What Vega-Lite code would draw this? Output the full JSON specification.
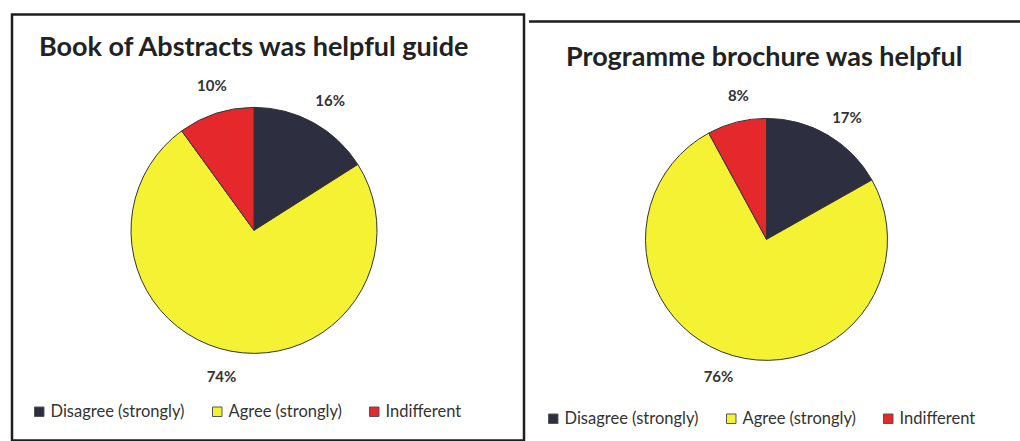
{
  "$schema": "https://vega.github.io/schema/vega-lite/v6.json",
  "padding": {"left": 10, "top": 13, "right": 0, "bottom": 0},
  "spacing": 1,
  "center": true,
  "background": "white",
  "config": {
    "view": {"stroke": "#1e1e1e", "strokeWidth": 2.5},
    "font": "Lato"
  },
  "resolve": {"scale": {"color": "independent", "theta": "independent"}, "legend": {"color": "independent"}},
  "hconcat": [
    {
      "width": 512,
      "height": 426,
      "view": {"stroke": "#1e1e1e", "strokeWidth": 2.5},
      "title": {"text": "Book of Abstracts was helpful guide", "anchor": "start", "offset": -48, "dx": 27, "fontSize": 27, "fontWeight": "bold", "color": "#222222", "font": "Lato"},
      "data": {"values": [
        {"response": "Disagree (strongly)", "pct": 16, "order": 1, "label": "16%"},
        {"response": "Agree (strongly)", "pct": 74, "order": 2, "label": "74%"},
        {"response": "Indifferent", "pct": 10, "order": 3, "label": "10%"}
      ]},
      "encoding": {
        "theta": {"field": "pct", "type": "quantitative", "stack": true},
        "order": {"field": "order", "type": "quantitative"}
      },
      "layer": [
        {
          "mark": {"type": "arc", "outerRadius": 123, "stroke": "#333333", "strokeWidth": 1, "xOffset": -14, "yOffset": 3},
          "encoding": {
            "color": {
              "field": "response", "type": "nominal",
              "scale": {"domain": ["Disagree (strongly)", "Agree (strongly)", "Indifferent"], "range": ["#2d2e40", "#f5f233", "#e5282c"]},
              "legend": {"title": null, "orient": "none", "legendX": 19, "legendY": 389, "direction": "horizontal", "symbolType": "square", "symbolSize": 90, "symbolStrokeColor": "#555555", "symbolStrokeWidth": 1, "labelFontSize": 16.5, "labelColor": "#333333", "labelFont": "Lato", "columnPadding": 24, "labelOffset": 3}
            }
          }
        },
        {
          "mark": {"type": "text", "radius": 150, "thetaOffset": 0.03, "fontSize": 15, "fontWeight": "bold", "color": "#333333", "font": "Lato", "xOffset": -14, "yOffset": 3},
          "encoding": {"text": {"field": "label", "type": "nominal"}}
        }
      ]
    },
    {
      "width": 497,
      "height": 412,
      "view": {"stroke": "#1e1e1e", "strokeWidth": 2.5, "strokeDash": [497, 3000]},
      "title": {"text": "Programme brochure was helpful", "anchor": "start", "offset": -51, "dx": 37, "fontSize": 27, "fontWeight": "bold", "color": "#222222", "font": "Lato"},
      "data": {"values": [
        {"response": "Disagree (strongly)", "pct": 17, "order": 1, "label": "17%"},
        {"response": "Agree (strongly)", "pct": 76, "order": 2, "label": "76%"},
        {"response": "Indifferent", "pct": 8, "order": 3, "label": "8%"}
      ]},
      "encoding": {
        "theta": {"field": "pct", "type": "quantitative", "stack": true},
        "order": {"field": "order", "type": "quantitative"}
      },
      "layer": [
        {
          "mark": {"type": "arc", "outerRadius": 121, "stroke": "#333333", "strokeWidth": 1, "xOffset": -11, "yOffset": 12},
          "encoding": {
            "color": {
              "field": "response", "type": "nominal",
              "scale": {"domain": ["Disagree (strongly)", "Agree (strongly)", "Indifferent"], "range": ["#2d2e40", "#f5f233", "#e5282c"]},
              "legend": {"title": null, "orient": "none", "legendX": 16, "legendY": 389, "direction": "horizontal", "symbolType": "square", "symbolSize": 90, "symbolStrokeColor": "#555555", "symbolStrokeWidth": 1, "labelFontSize": 16.5, "labelColor": "#333333", "labelFont": "Lato", "columnPadding": 24, "labelOffset": 3}
            }
          }
        },
        {
          "mark": {"type": "text", "radius": 146, "thetaOffset": 0.055, "fontSize": 15, "fontWeight": "bold", "color": "#333333", "font": "Lato", "xOffset": -11, "yOffset": 12},
          "encoding": {"text": {"field": "label", "type": "nominal"}}
        }
      ]
    }
  ]
}
